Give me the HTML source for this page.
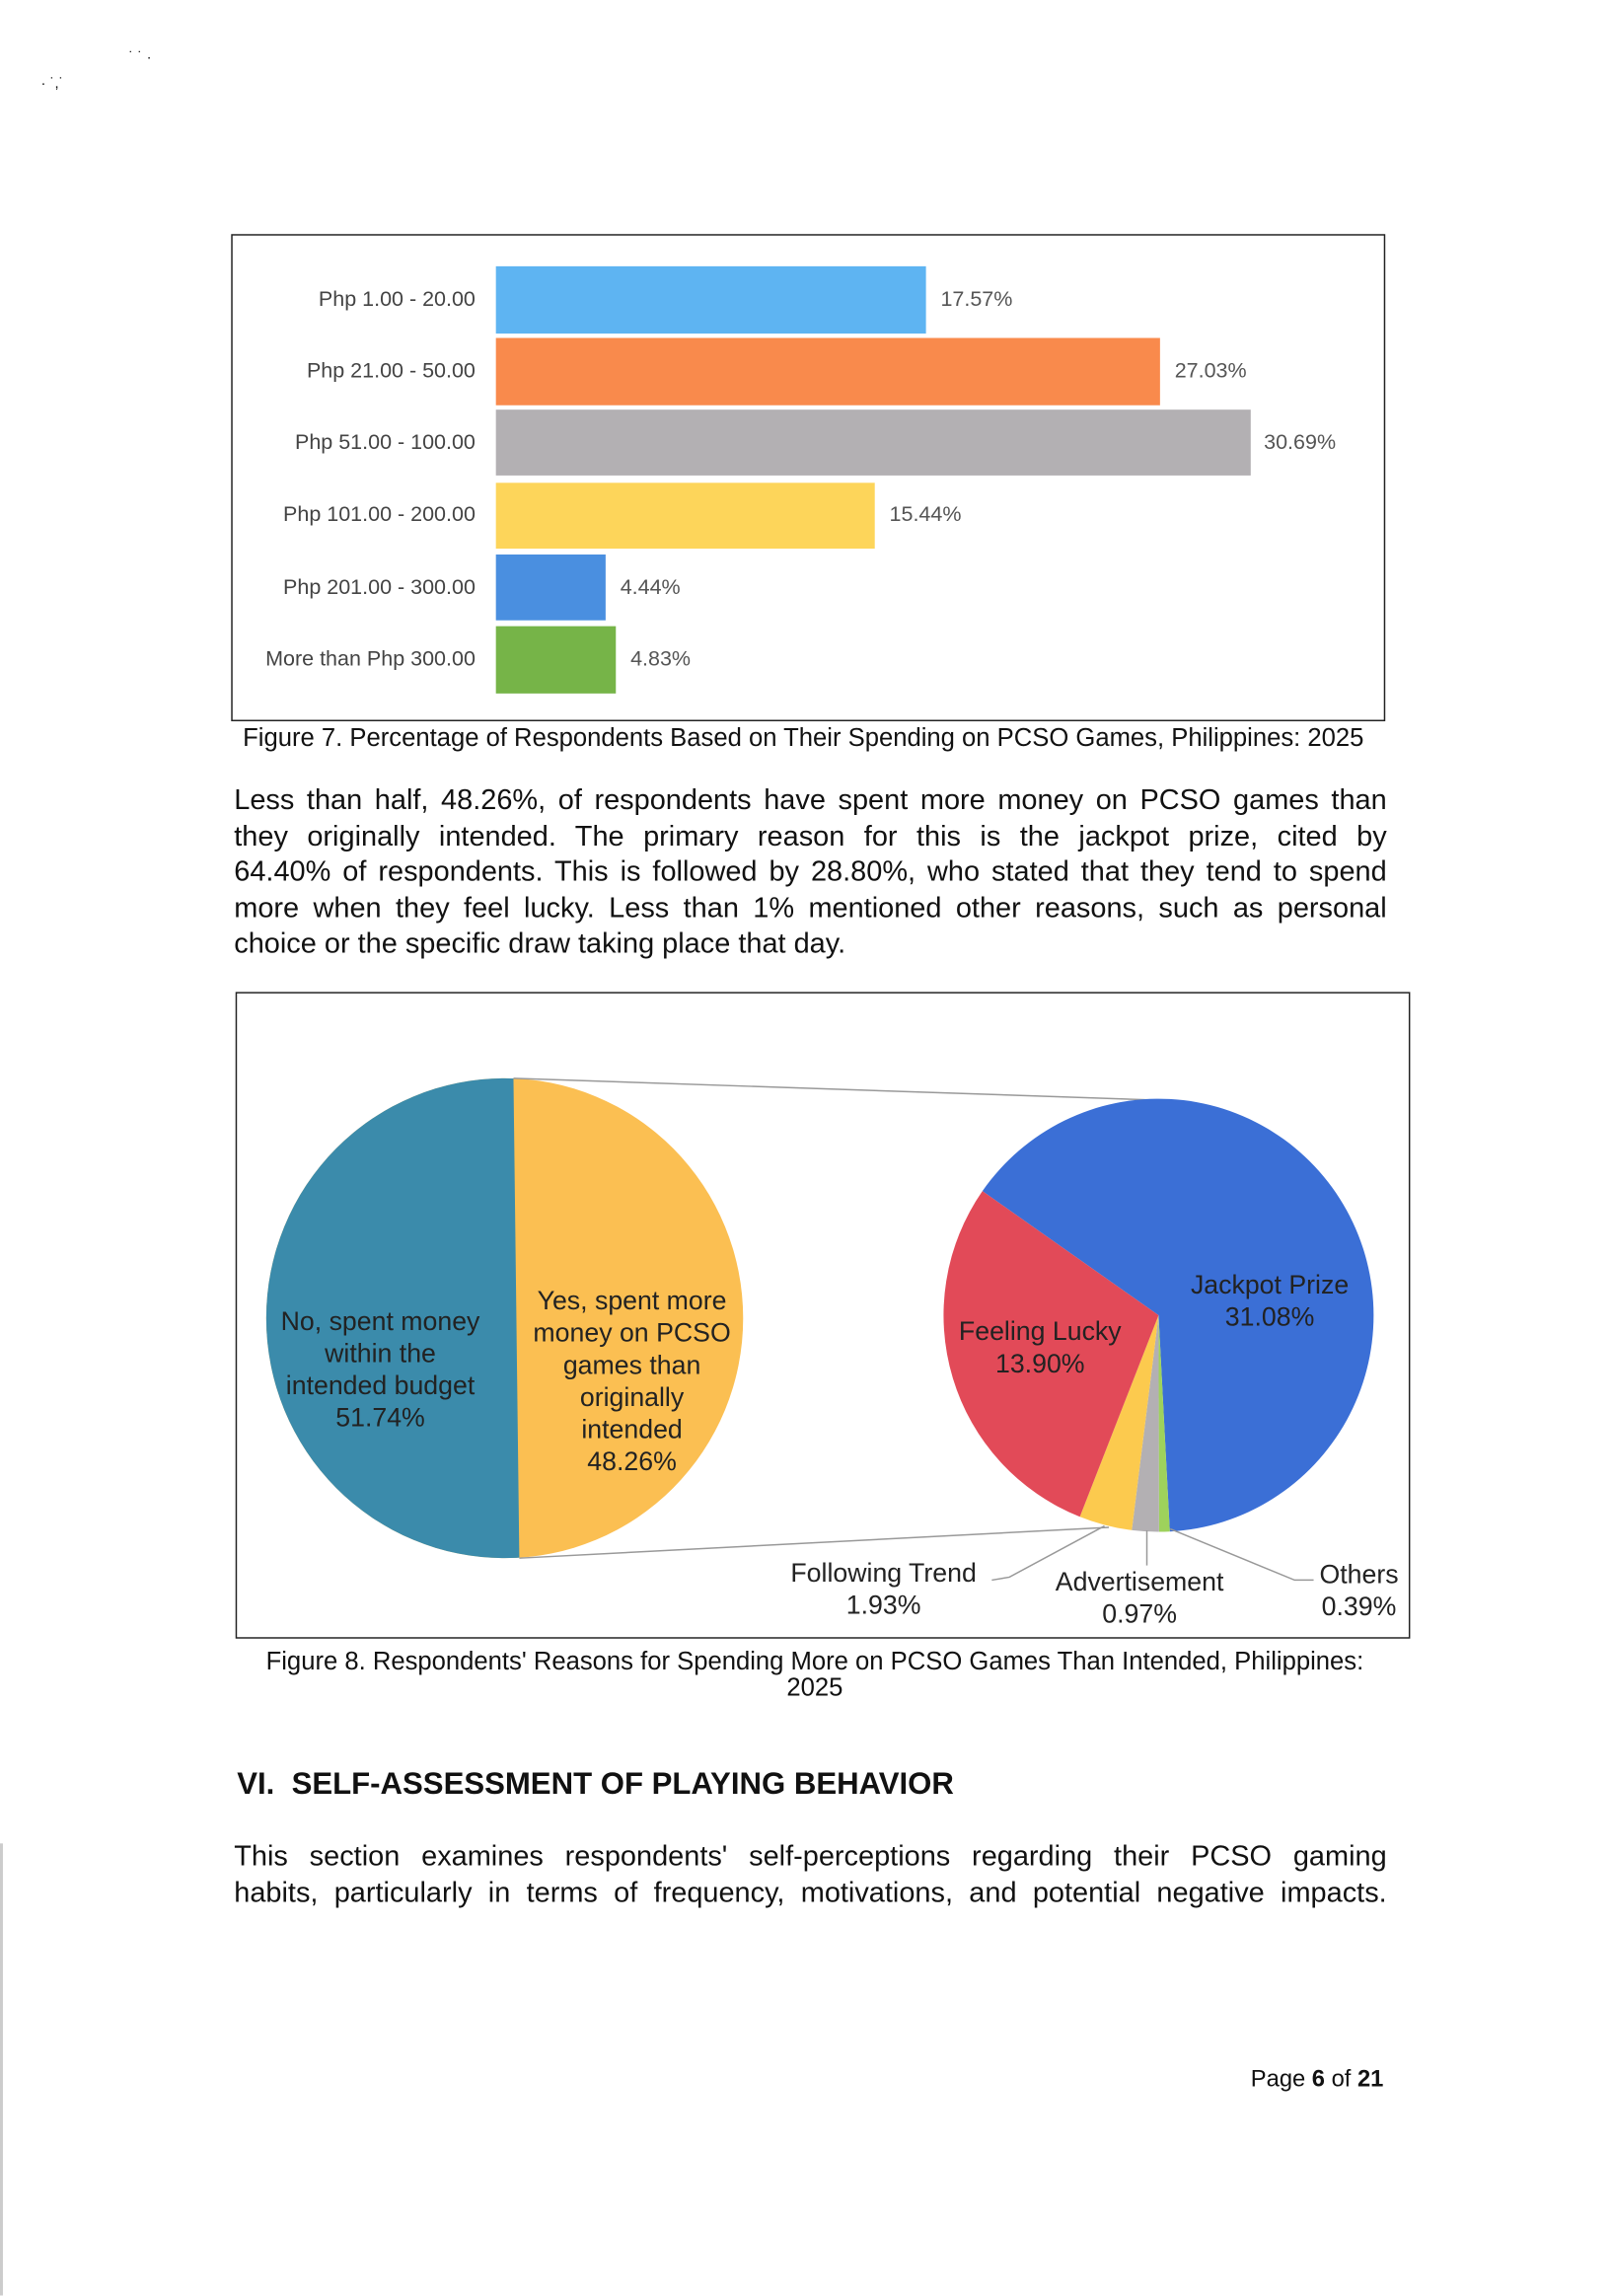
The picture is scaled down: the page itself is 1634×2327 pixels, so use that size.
<!DOCTYPE html>
<html><head><meta charset="utf-8"><style>
body{margin:0;background:#fff;}
#w{position:relative;width:1102px;height:1569px;transform:scale(1.4828);transform-origin:0 0;font-family:"Liberation Sans",Arial,sans-serif;color:#111;overflow:hidden;}
.a{position:absolute;white-space:nowrap;}
.bl{position:absolute;right:777px;font-size:14.5px;color:#444;line-height:16px;}
.bv{position:absolute;font-size:14.5px;color:#555;line-height:16px;}
.bar{position:absolute;left:339px;}
.p{position:absolute;left:160px;width:788px;font-size:19.5px;line-height:24.5px;color:#111;}
.p div{text-align:justify;text-align-last:justify;white-space:nowrap;}
.p div.l{text-align-last:left;}
.c{position:absolute;text-align:center;font-size:18px;line-height:22px;color:#222;}
</style></head><body><div id="w">
<div class="a" style="left:88px;top:34px;font-size:10px">&#729; &#729; &#183;</div>
<div class="a" style="left:28px;top:52px;font-size:10px">&#183; &#729;,&#729;</div>
<div style="position:absolute;left:0;top:1260px;width:2px;height:309px;background:#ccc"></div>
<div style="position:absolute;left:158px;top:160px;width:787px;height:331px;border:1.5px solid #222;"></div>
<div class="bl" style="top:197px">Php 1.00 - 20.00</div>
<div class="bl" style="top:246px">Php 21.00 - 50.00</div>
<div class="bl" style="top:295px">Php 51.00 - 100.00</div>
<div class="bl" style="top:344px">Php 101.00 - 200.00</div>
<div class="bl" style="top:394px">Php 201.00 - 300.00</div>
<div class="bl" style="top:443px">More than Php 300.00</div>
<div class="bar" style="top:182px;height:46px;width:294px;background:#5eb4f2"></div>
<div class="bar" style="top:231px;height:46px;width:454px;background:#f98a4c"></div>
<div class="bar" style="top:280px;height:45px;width:516px;background:#b3b0b3"></div>
<div class="bar" style="top:330px;height:45px;width:259px;background:#fdd55a"></div>
<div class="bar" style="top:379px;height:45px;width:75px;background:#4a8fe0"></div>
<div class="bar" style="top:428px;height:46px;width:82px;background:#76b448"></div>
<div class="bv" style="left:643px;top:197px">17.57%</div>
<div class="bv" style="left:803px;top:246px">27.03%</div>
<div class="bv" style="left:864px;top:295px">30.69%</div>
<div class="bv" style="left:608px;top:344px">15.44%</div>
<div class="bv" style="left:424px;top:394px">4.44%</div>
<div class="bv" style="left:431px;top:443px">4.83%</div>
<div class="a" style="left:166px;top:494px;font-size:17.3px">Figure 7. Percentage of Respondents Based on Their Spending on PCSO Games, Philippines: 2025</div>
<div class="p" style="top:535px">
<div>Less than half, 48.26%, of respondents have spent more money on PCSO games than</div>
<div>they originally intended. The primary reason for this is the jackpot prize, cited by</div>
<div>64.40% of respondents. This is followed by 28.80%, who stated that they tend to spend</div>
<div>more when they feel lucky. Less than 1% mentioned other reasons, such as personal</div>
<div class="l">choice or the specific draw taking place that day.</div>
</div>
<div style="position:absolute;left:161px;top:678px;width:801px;height:440px;border:1.5px solid #222;"></div>
<svg style="position:absolute;left:0;top:0" width="1102" height="1569">
<defs><clipPath id="lc"><ellipse cx="345" cy="901" rx="163" ry="164"/></clipPath></defs>
<g clip-path="url(#lc)">
<rect x="170" y="730" width="400" height="340" fill="#fbbf52"/>
<polygon points="170,730 351,737 355,1065 170,1070" fill="#3b8bab"/>
</g>
<line x1="351" y1="737" x2="793" y2="752" stroke="#999" stroke-width="1"/>
<line x1="355" y1="1065" x2="758" y2="1044" stroke="#999" stroke-width="1"/>
<g transform="translate(792,899)">
<path d="M0,0 L-120.4,-84.9 A147,148 0 1 1 7.7,147.8 Z" fill="#3b6fd6"/>
<path d="M0,0 L7.7,147.8 A147,148 0 0 1 0.3,148 Z" fill="#9ed25c"/>
<path d="M0,0 L0.3,148 A147,148 0 0 1 -18.3,146.9 Z" fill="#b3b0b3"/>
<path d="M0,0 L-18.3,146.9 A147,148 0 0 1 -53.8,137.7 Z" fill="#fcca4e"/>
<path d="M0,0 L-53.8,137.7 A147,148 0 0 1 -120.4,-84.9 Z" fill="#e24a58"/>
</g>
<polyline points="678,1080 690,1078 755,1043" fill="none" stroke="#999"/>
<line x1="784" y1="1046" x2="784" y2="1070" stroke="#999"/>
<polyline points="800,1045 885,1080 898,1080" fill="none" stroke="#999"/>
</svg>
<div class="c" style="left:160px;width:200px;top:892px">No, spent money<br>within the<br>intended budget<br>51.74%</div>
<div class="c" style="left:352px;width:160px;top:878px">Yes, spent more<br>money on PCSO<br>games than<br>originally<br>intended<br>48.26%</div>
<div class="c" style="left:631px;width:160px;top:899px">Feeling Lucky<br>13.90%</div>
<div class="c" style="left:793px;width:150px;top:867px">Jackpot Prize<br>31.08%</div>
<div class="c" style="left:524px;width:160px;top:1064px">Following Trend<br>1.93%</div>
<div class="c" style="left:699px;width:160px;top:1070px">Advertisement<br>0.97%</div>
<div class="c" style="left:879px;width:100px;top:1065px">Others<br>0.39%</div>
<div class="a" style="left:0;width:1114px;text-align:center;top:1126px;font-size:17.3px;line-height:18px">Figure 8. Respondents' Reasons for Spending More on PCSO Games Than Intended, Philippines:<br>2025</div>
<div class="a" style="left:162px;top:1208px;font-size:21px;font-weight:bold">VI.&nbsp; SELF-ASSESSMENT OF PLAYING BEHAVIOR</div>
<div class="p" style="top:1257px">
<div>This section examines respondents' self-perceptions regarding their PCSO gaming</div>
<div>habits, particularly in terms of frequency, motivations, and potential negative impacts.</div>
</div>
<div class="a" style="left:855px;top:1413px;font-size:16px">Page <b>6</b> of <b>21</b></div>
</div></body></html>
